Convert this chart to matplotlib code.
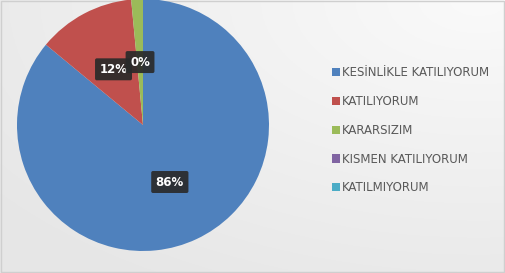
import matplotlib
matplotlib.use("Agg")
import matplotlib.pyplot as plt
import numpy as np

categories = ["KESİNLİKLE KATILIYORUM", "KATILIYORUM", "KARARSIZIM",
              "KISMEN KATILIYORUM", "KATILMIYORUM"]
values = [86.0, 12.5, 1.5, 0.0, 0.0]
pct_labels = ["86%", "12%", "0%", "", ""]
colors = ["#4F81BD", "#C0504D", "#9BBB59", "#8064A2", "#4BACC6"]

plt.rcParams['font.family'] = ['DejaVu Sans']

fig = plt.figure(figsize=(5.05, 2.73), dpi=100)
fig.patch.set_facecolor("#ececec")

# background gradient
bg = fig.add_axes([0, 0, 1, 1], zorder=-10)
yy, xx = np.mgrid[0:1:200j, 0:1:200j]
grad = 0.905 + 0.075 * np.clip(1 - np.hypot(xx - 0.95, yy - 0.0) / 1.2, 0, 1)
bg.imshow(np.dstack([grad, grad, grad]), extent=[0, 1, 0, 1], aspect='auto', origin='upper')
bg.set_xlim(0, 1); bg.set_ylim(0, 1)
bg.axis('off')
bg.add_patch(plt.Rectangle((0.002, 0.004), 0.996, 0.992, fill=False,
                           edgecolor="#cfcfcf", lw=1, transform=bg.transAxes))

W, H = 505, 273
cx, cy, r = 143, 125, 126
ax = fig.add_axes([(cx - r) / W, (H - cy - r) / H, 2 * r / W, 2 * r / H])
it = iter(pct_labels)
wedges, texts, autotexts = ax.pie(
    values, colors=colors, startangle=90, counterclock=False,
    autopct=lambda p: next(it), pctdistance=0.5,
    wedgeprops=dict(linewidth=0),
    textprops=dict(color="white", fontsize=8.5, fontweight="bold"))
for t in autotexts:
    if t.get_text():
        t.set_bbox(dict(boxstyle="round,pad=0.38,rounding_size=0.15",
                        fc="#2a2a2a", ec="none", alpha=0.92))
ax.set_xlim(-1, 1)
ax.set_ylim(-1, 1)
ax.set_aspect('equal')

leg = fig.legend(wedges, categories, loc="upper left",
                 bbox_to_anchor=(332 / W, 1 - 66.5 / H), frameon=False,
                 borderpad=0, borderaxespad=0,
                 handlelength=0.68, handleheight=0.68, handletextpad=0.17,
                 labelspacing=1.33, fontsize=8.5)
for t in leg.get_texts():
    t.set_color("#595959")

fig.savefig("out.png", dpi=100, facecolor=fig.get_facecolor())
